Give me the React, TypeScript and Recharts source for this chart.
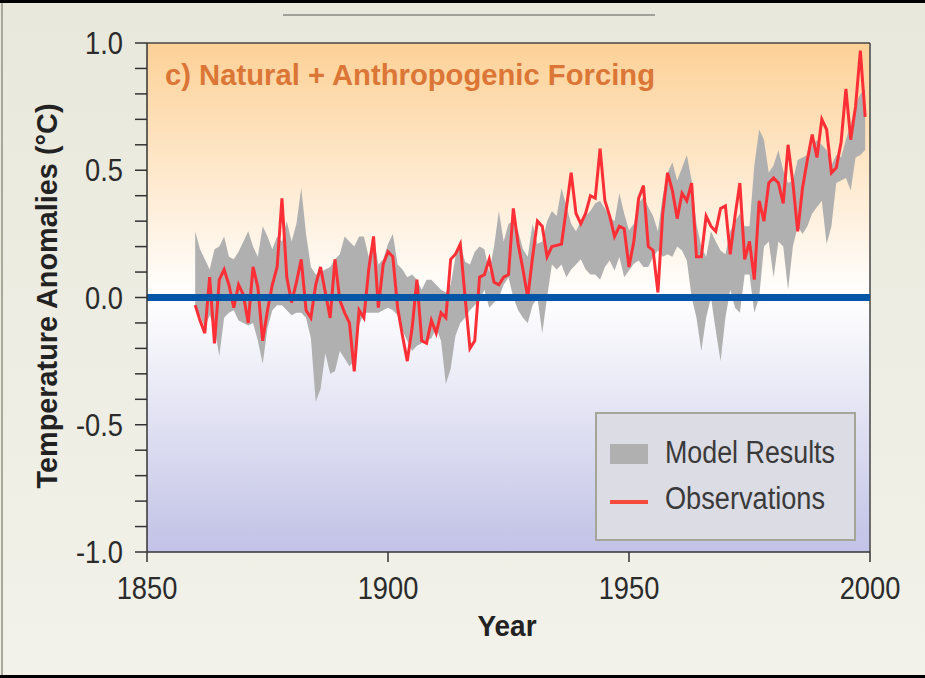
import React from 'react';
import { ComposedChart, Area, Line, XAxis, YAxis, CartesianGrid, ReferenceLine } from 'recharts';

// annual series, one value per year starting at START_YEAR
const START_YEAR = 1860;

const OBSERVED = [
  -0.03, -0.09, -0.14, 0.08, -0.18, 0.07, 0.11, 0.05, -0.04, 0.05,
  0.01, -0.10, 0.12, 0.04, -0.17, -0.05, 0.05, 0.12, 0.39, 0.08,
  -0.02, 0.06, 0.15, -0.05, -0.08, 0.05, 0.12, 0.02, -0.08, 0.15,
  -0.01, -0.06, -0.10, -0.29, -0.05, -0.08, 0.11, 0.24, -0.04, 0.13,
  0.18, 0.16, -0.04, -0.15, -0.25, -0.12, 0.07, -0.17, -0.18, -0.09,
  -0.14, -0.06, -0.08, 0.15, 0.17, 0.21, 0.00, -0.20, -0.17, 0.08,
  0.09, 0.15, 0.06, 0.05, 0.08, 0.09, 0.35, 0.21, 0.11, 0.00,
  0.16, 0.30, 0.28, 0.16, 0.20, 0.205, 0.21, 0.35, 0.49, 0.33,
  0.29, 0.33, 0.40, 0.39, 0.585, 0.38, 0.32, 0.24, 0.28, 0.27,
  0.12, 0.22, 0.39, 0.44, 0.20, 0.185, 0.02, 0.33, 0.49, 0.42,
  0.31, 0.41, 0.38, 0.45, 0.16, 0.16, 0.32, 0.28, 0.26, 0.35,
  0.36, 0.17, 0.32, 0.45, 0.15, 0.22, 0.07, 0.38, 0.30, 0.45,
  0.47, 0.45, 0.37, 0.60, 0.45, 0.26, 0.43, 0.54, 0.64, 0.55,
  0.70, 0.66, 0.49, 0.51, 0.61, 0.82, 0.62, 0.75, 0.97, 0.71,
];

// ensemble spread of the model runs
const MODEL_LOW = [
  -0.05, -0.07, -0.12, -0.07, -0.12, -0.23, -0.08, -0.06, -0.05, -0.09,
  -0.10, -0.11, -0.10, -0.17, -0.26, -0.12, -0.05, -0.03, -0.03, -0.05,
  -0.07, -0.06, -0.06, -0.08, -0.16, -0.41, -0.36, -0.22, -0.30, -0.29,
  -0.21, -0.24, -0.27, -0.25, -0.11, -0.06, -0.06, -0.06, -0.06, -0.05,
  -0.04, -0.05, -0.07, -0.13, -0.17, -0.21, -0.19, -0.18, -0.17, -0.16,
  -0.12, -0.17, -0.34, -0.28, -0.15, -0.10, -0.08, -0.05, -0.03, -0.01,
  0.03, -0.04, -0.02, 0.00, 0.05, 0.08, 0.00, -0.05, -0.08, -0.10,
  -0.03, 0.00, -0.14, 0.00, 0.13, 0.11, 0.13, 0.08, 0.11, 0.13,
  0.15, 0.11, 0.09, 0.09, 0.07, 0.12, 0.145, 0.106, 0.159, 0.08,
  0.106, 0.133, 0.145, 0.12, 0.12, 0.16, 0.185, 0.16, 0.17, 0.16,
  0.20, 0.185, 0.145, 0.00, -0.08, -0.21, -0.08, 0.00, -0.13, -0.25,
  -0.08, 0.03, -0.04, -0.06, 0.09, 0.09, -0.06, 0.00, 0.20, 0.22,
  0.08, 0.22, 0.20, 0.03, 0.20, 0.28, 0.25, 0.28, 0.33, 0.356,
  0.38, 0.21, 0.28, 0.45, 0.46, 0.47, 0.42, 0.55, 0.56, 0.58,
];

const MODEL_HIGH = [
  0.26, 0.19, 0.15, 0.11, 0.19, 0.20, 0.24, 0.16, 0.15, 0.18,
  0.22, 0.26, 0.20, 0.16, 0.28, 0.24, 0.19, 0.24, 0.22, 0.30,
  0.22, 0.29, 0.43, 0.25, 0.12, 0.09, 0.10, 0.11, 0.12, 0.15,
  0.17, 0.24, 0.22, 0.20, 0.24, 0.24, 0.16, 0.24, 0.13, 0.15,
  0.21, 0.25, 0.13, 0.11, 0.08, 0.09, 0.07, 0.03, 0.07, 0.07,
  0.05, 0.03, 0.02, 0.05, 0.16, 0.21, 0.14, 0.13, 0.18, 0.20,
  0.19, 0.10, 0.20, 0.34, 0.22, 0.29, 0.30, 0.26, 0.19, 0.16,
  0.29, 0.21, 0.22, 0.30, 0.34, 0.32, 0.43, 0.36, 0.29, 0.26,
  0.30, 0.32, 0.34, 0.37, 0.38, 0.35, 0.316, 0.30, 0.41, 0.33,
  0.264, 0.29, 0.37, 0.395, 0.356, 0.32, 0.26, 0.40, 0.49, 0.53,
  0.46, 0.51, 0.56, 0.46, 0.29, 0.20, 0.16, 0.26, 0.22, 0.185,
  0.17, 0.26, 0.30, 0.33, 0.28, 0.28, 0.52, 0.66, 0.62, 0.49,
  0.52, 0.58, 0.50, 0.45, 0.46, 0.54, 0.55, 0.56, 0.60, 0.618,
  0.60, 0.58, 0.52, 0.56, 0.55, 0.62, 0.68, 0.76, 0.80, 0.82,
];

const X_TICKS = [1850, 1900, 1950, 2000];
const Y_TICKS = [-1, -0.9, -0.8, -0.7, -0.6, -0.5, -0.4, -0.3, -0.2, -0.1, 0, 0.1, 0.2, 0.3, 0.4, 0.5, 0.6, 0.7, 0.8, 0.9, 1];
const Y_LABELS = [-1, -0.5, 0, 0.5, 1];

const data = OBSERVED.map((obs, i) => ({
  year: START_YEAR + i,
  obs,
  model: [MODEL_LOW[i], MODEL_HIGH[i]],
}));

const FONT = '"Liberation Sans", Arial, Helvetica, sans-serif';
const INK = '#2b2b2b';

function YTick(props: any) {
  const { x, y, payload } = props;
  const v = payload.value;
  if (!Y_LABELS.some((l) => Math.abs(l - v) < 1e-6)) return <g />;
  return (
    <text transform={`translate(${x - 12},${y + 11}) scale(0.88,1)`} textAnchor="end" fontSize={31} fill={INK} fontFamily={FONT}>
      {v.toFixed(1)}
    </text>
  );
}

function XTick(props: any) {
  const { x, y, payload } = props;
  return (
    <text transform={`translate(${x},${y + 37}) scale(0.88,1)`} textAnchor="middle" fontSize={31} fill={INK} fontFamily={FONT}>
      {payload.value}
    </text>
  );
}

export default function App() {
  const axisStroke = { stroke: '#333', strokeWidth: 1.5 };
  return (
    <div style={{ position: 'absolute', left: 0, top: 0, width: 925, height: 678, overflow: 'hidden', background: 'linear-gradient(#e8e8dc, #f2f2ea)', fontFamily: FONT }}>
      <div style={{ position: 'absolute', left: 0, top: 0, width: 925, height: 3, background: '#000' }} />
      <div style={{ position: 'absolute', left: 0, bottom: 0, width: 925, height: 3, background: '#000' }} />
      <div style={{ position: 'absolute', left: 1, top: 3, width: 2, height: 672, background: '#a9a99b' }} />
      <div style={{ position: 'absolute', left: 283, top: 14, width: 372, height: 2, background: '#a0a098' }} />

      <div style={{ position: 'absolute', left: 0, top: 0 }}>
        <ComposedChart width={925} height={678} data={data} margin={{ top: 43, right: 55, bottom: 66, left: 87 }}>
          <defs>
            <linearGradient id="plotBg" x1="0" y1="0" x2="0" y2="1">
              <stop offset="0" stopColor="#fdd197" />
              <stop offset="0.5" stopColor="#ffffff" />
              <stop offset="1" stopColor="#c1c2e6" />
            </linearGradient>
          </defs>
          <CartesianGrid fill="url(#plotBg)" horizontal={false} vertical={false} />
          <XAxis
            dataKey="year"
            type="number"
            domain={[1850, 2000]}
            ticks={X_TICKS}
            interval={0}
            tickSize={10}
            tickMargin={0}
            height={60}
            axisLine={axisStroke}
            tickLine={axisStroke}
            tick={<XTick />}
          />
          <YAxis
            domain={[-1, 1]}
            ticks={Y_TICKS}
            interval={0}
            tickSize={12}
            tickMargin={0}
            width={60}
            axisLine={axisStroke}
            tickLine={axisStroke}
            tick={<YTick />}
          />
          <Area dataKey="model" type="linear" fill="#b0b0b0" fillOpacity={1} stroke="none" isAnimationActive={false} />
          <Line dataKey="obs" type="linear" stroke="#fb2f35" strokeWidth={3} dot={false} isAnimationActive={false} />
          <ReferenceLine y={1} stroke="#444" strokeWidth={1.5} />
          <ReferenceLine x={2000} stroke="#444" strokeWidth={1.5} />
          <ReferenceLine y={0} stroke="#0556a6" strokeWidth={7} />
        </ComposedChart>
      </div>

      <svg width={925} height={678} style={{ position: 'absolute', left: 0, top: 0, pointerEvents: 'none' }} fontFamily={FONT}>
        <text x={165} y={85} fontSize={30} fontWeight="bold" fill="#db7636" textLength={490} lengthAdjust="spacingAndGlyphs">
          c) Natural + Anthropogenic Forcing
        </text>
        <text transform="translate(57,296) rotate(-90)" textAnchor="middle" fontSize={30} fontWeight="bold" fill="#222" textLength={385} lengthAdjust="spacingAndGlyphs">
          Temperature Anomalies (°C)
        </text>
        <text x={507} y={636} textAnchor="middle" fontSize={30} fontWeight="bold" fill="#222" textLength={59} lengthAdjust="spacingAndGlyphs">
          Year
        </text>

        <rect x={596} y={413} width={259} height={127} fill="#dcdce5" stroke="#a6a698" strokeWidth={2} />
        <rect x={610} y={444} width={38} height={20} fill="#b0b0b0" />
        <line x1={610} x2={648} y1={502} y2={502} stroke="#f64a3c" strokeWidth={4} />
        <text x={665} y={463} fontSize={31} fill="#3a3a3a" textLength={170} lengthAdjust="spacingAndGlyphs">
          Model Results
        </text>
        <text x={665} y={509} fontSize={31} fill="#3a3a3a" textLength={160} lengthAdjust="spacingAndGlyphs">
          Observations
        </text>
      </svg>
    </div>
  );
}
